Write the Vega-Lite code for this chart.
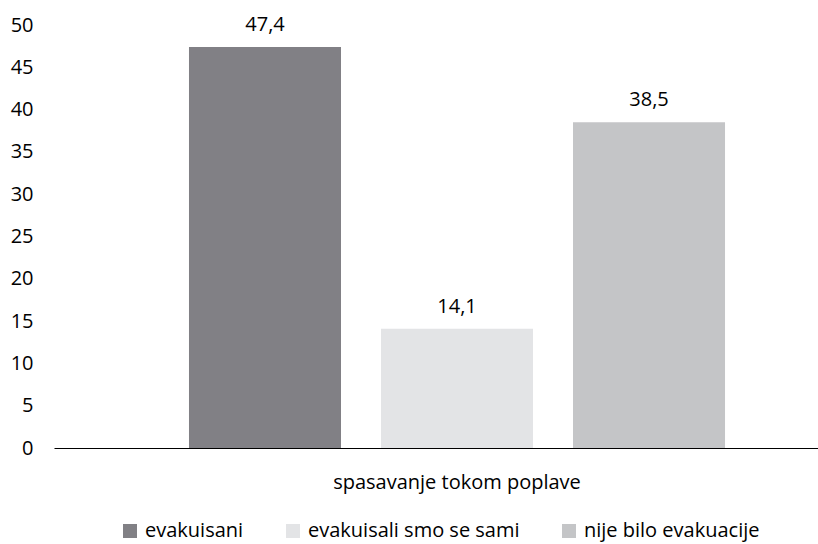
{
  "$schema": "https://vega.github.io/schema/vega-lite/v6.json",
  "width": 806,
  "height": 423,
  "autosize": {"type": "none"},
  "padding": {"left": 54, "top": 25, "right": 0, "bottom": 96},
  "config": {
    "view": {"stroke": null},
    "font": "Open Sans",
    "locale": {"number": {"decimal": ",", "thousands": ".", "grouping": [3], "currency": ["", " €"]}}
  },
  "data": {
    "values": [
      {"group": "spasavanje tokom poplave", "category": "evakuisani", "value": 47.4},
      {"group": "spasavanje tokom poplave", "category": "evakuisali smo se sami", "value": 14.1},
      {"group": "spasavanje tokom poplave", "category": "nije bilo evakuacije", "value": 38.5}
    ]
  },
  "encoding": {
    "x": {
      "field": "group",
      "type": "nominal",
      "scale": {"paddingInner": 0, "paddingOuter": 0},
      "axis": {
        "title": null,
        "labelAngle": 0,
        "ticks": false,
        "domainColor": "#000000",
        "domainWidth": 1.2,
        "labelFontSize": 20,
        "labelColor": "#000000",
        "labelBaseline": "alphabetic",
        "labelPadding": 40,
        "labelLimit": 0
      }
    },
    "xOffset": {
      "field": "category",
      "type": "nominal",
      "sort": ["evakuisani", "evakuisali smo se sami", "nije bilo evakuacije"],
      "scale": {"paddingInner": 0.2083, "paddingOuter": 0.703}
    },
    "y": {
      "field": "value",
      "type": "quantitative",
      "scale": {"domain": [0, 50], "nice": false},
      "axis": {
        "title": null,
        "values": [0, 5, 10, 15, 20, 25, 30, 35, 40, 45, 50],
        "grid": false,
        "ticks": false,
        "domain": false,
        "labelPadding": 21,
        "labelFontSize": 20,
        "labelColor": "#000000"
      }
    }
  },
  "layer": [
    {
      "mark": {"type": "bar"},
      "encoding": {
        "color": {
          "field": "category",
          "type": "nominal",
          "sort": ["evakuisani", "evakuisali smo se sami", "nije bilo evakuacije"],
          "scale": {
            "domain": ["evakuisani", "evakuisali smo se sami", "nije bilo evakuacije"],
            "range": ["#818085", "#e3e4e6", "#c4c5c7"]
          },
          "legend": {
            "title": null,
            "orient": "none",
            "legendX": 66,
            "legendY": 496,
            "direction": "horizontal",
            "columns": 3,
            "symbolType": "square",
            "symbolSize": 196,
            "symbolStrokeWidth": 0,
            "labelFontSize": 20,
            "labelColor": "#000000",
            "labelOffset": 5,
            "labelLimit": 0,
            "columnPadding": 39
          }
        }
      }
    },
    {
      "mark": {"type": "text", "baseline": "alphabetic", "dy": -16, "fontSize": 20, "color": "#000000"},
      "encoding": {
        "text": {"field": "value", "type": "quantitative", "format": ".1f"}
      }
    }
  ]
}
